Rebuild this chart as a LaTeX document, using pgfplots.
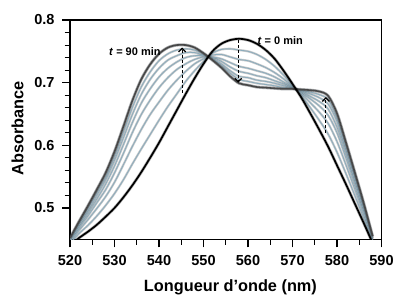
\documentclass[border=0pt]{standalone}
\usepackage{fontspec}
\setmainfont{Liberation Sans}
\usepackage{pgfplots}
\usepackage{pgfplotstable}
\pgfplotsset{compat=1.18}
\usetikzlibrary{arrows.meta}
\definecolor{curve}{RGB}{140,172,188}
\definecolor{halo}{RGB}{70,75,80}

% columns: wavelength, t=0, six intermediate times, t=90 min
\pgfplotstableread{
x    a0    a1    a2    a3    a4    a5    a6    a9
520 0.440 0.443 0.446 0.447 0.449 0.450 0.451 0.452
522 0.452 0.459 0.464 0.468 0.471 0.474 0.476 0.478
524 0.462 0.472 0.481 0.487 0.492 0.496 0.500 0.503
526 0.473 0.487 0.499 0.508 0.514 0.520 0.525 0.529
528 0.486 0.504 0.518 0.529 0.538 0.545 0.550 0.556
530 0.500 0.523 0.541 0.556 0.567 0.576 0.583 0.590
532 0.517 0.545 0.569 0.587 0.601 0.612 0.621 0.630
534 0.536 0.570 0.598 0.620 0.636 0.649 0.660 0.671
536 0.557 0.594 0.625 0.649 0.667 0.681 0.693 0.705
538 0.580 0.617 0.649 0.672 0.690 0.705 0.717 0.729
540 0.604 0.640 0.669 0.692 0.709 0.723 0.735 0.746
542 0.630 0.662 0.688 0.708 0.723 0.736 0.746 0.756
544 0.656 0.682 0.704 0.721 0.733 0.743 0.752 0.760
546 0.682 0.702 0.718 0.730 0.740 0.748 0.754 0.760
548 0.707 0.719 0.730 0.737 0.743 0.748 0.752 0.756
550 0.730 0.734 0.738 0.741 0.743 0.744 0.746 0.747
552 0.750 0.747 0.744 0.741 0.740 0.738 0.737 0.736
554 0.762 0.753 0.745 0.738 0.734 0.730 0.727 0.724
556 0.768 0.754 0.741 0.732 0.725 0.719 0.715 0.710
558 0.770 0.752 0.737 0.726 0.718 0.710 0.705 0.699
560 0.768 0.750 0.735 0.723 0.715 0.708 0.702 0.696
562 0.762 0.745 0.730 0.719 0.711 0.704 0.699 0.693
564 0.752 0.737 0.724 0.715 0.708 0.702 0.697 0.692
566 0.738 0.726 0.716 0.709 0.703 0.699 0.695 0.691
568 0.719 0.712 0.706 0.701 0.698 0.695 0.692 0.690
570 0.698 0.696 0.694 0.693 0.692 0.691 0.691 0.690
572 0.676 0.679 0.682 0.684 0.686 0.687 0.688 0.689
574 0.651 0.660 0.668 0.674 0.678 0.682 0.685 0.688
576 0.625 0.640 0.653 0.663 0.670 0.676 0.681 0.686
578 0.598 0.618 0.635 0.648 0.658 0.666 0.673 0.679
580 0.568 0.589 0.606 0.620 0.629 0.638 0.644 0.651
582 0.538 0.555 0.569 0.580 0.588 0.594 0.600 0.605
584 0.507 0.520 0.530 0.538 0.544 0.549 0.553 0.557
586 0.476 0.484 0.491 0.496 0.500 0.503 0.505 0.508
588 0.444 0.447 0.449 0.451 0.452 0.453 0.454 0.455
}\spectra

\begin{document}
\begin{tikzpicture}
\begin{axis}[
  at={(0,0)}, anchor=south west,
  scale only axis, width=311.5pt, height=219.3pt,
  xmin=520, xmax=590, ymin=0.45, ymax=0.8,
  xtick={520,530,...,590}, ytick={0.5,0.6,0.7,0.8},
  minor x tick num=1, minor y tick num=4,
  tick align=outside, tick pos=left,
  major tick length=8pt, minor tick length=5.5pt,
  every tick/.style={black, line width=1.1pt},
  axis line style={line width=1.3pt},
  /pgf/number format/assume math mode=true,
  ticklabel style={font=\bfseries\fontsize{14.5}{16}\selectfont},
  xticklabel style={/pgf/number format/1000 sep={}, yshift=-4.5pt},
  yticklabel style={/pgf/number format/.cd, fixed, fixed zerofill, precision=1, /tikz/xshift=-4pt},
  xlabel={Longueur d’onde (nm)}, ylabel={Absorbance},
  every axis x label/.style={at={(axis description cs:0.515,-0.2394)}, anchor=base,
    font=\bfseries\fontsize{16.3}{18}\selectfont},
  every axis y label/.style={at={(axis description cs:-0.1493,0.505)}, rotate=90, anchor=base,
    font=\bfseries\fontsize{16.3}{18}\selectfont},
  every axis plot/.append style={smooth, no markers},
]
\foreach \c in {a6,a5,a4,a3,a2,a1}{
  \addplot[halo, opacity=0.3, line width=2.2pt] table[x=x, y=\c] {\spectra};
  \addplot[curve, line width=0.85pt] table[x=x, y=\c] {\spectra};
}
\addplot[halo, opacity=0.45, line width=3pt] table[x=x, y=a9] {\spectra};
\addplot[black!72, line width=1.6pt] table[x=x, y=a9] {\spectra};
\addplot[black, opacity=0.3, line width=3pt] table[x=x, y=a0] {\spectra};
\addplot[black, line width=1.7pt] table[x=x, y=a0] {\spectra};

\draw[black, line width=1.2pt, dash pattern=on 3pt off 2pt, -{Straight Barb[length=3.5pt,width=7pt]}]
  (axis cs:545.2,0.684) -- (axis cs:545.2,0.756);
\draw[black, line width=1.2pt, dash pattern=on 3pt off 2pt, -{Straight Barb[length=3.5pt,width=7pt]}]
  (axis cs:557.8,0.768) -- (axis cs:557.8,0.700);
\draw[black, line width=1.2pt, dash pattern=on 3pt off 2pt, -{Straight Barb[length=3.5pt,width=7pt]}]
  (axis cs:577.5,0.620) -- (axis cs:577.5,0.677);

\node[anchor=east, inner sep=0pt, font=\bfseries\fontsize{11}{12}\selectfont] at (axis cs:540.4,0.749) {\textit{t} = 90 min};
\node[anchor=west, inner sep=0pt, font=\bfseries\fontsize{11}{12}\selectfont] at (axis cs:562.1,0.7677) {\textit{t} = 0 min};
\end{axis}
\pgfresetboundingbox
\path[use as bounding box] (-70pt,-56.7pt) rectangle (325pt,239.3pt);
\end{tikzpicture}
\end{document}
